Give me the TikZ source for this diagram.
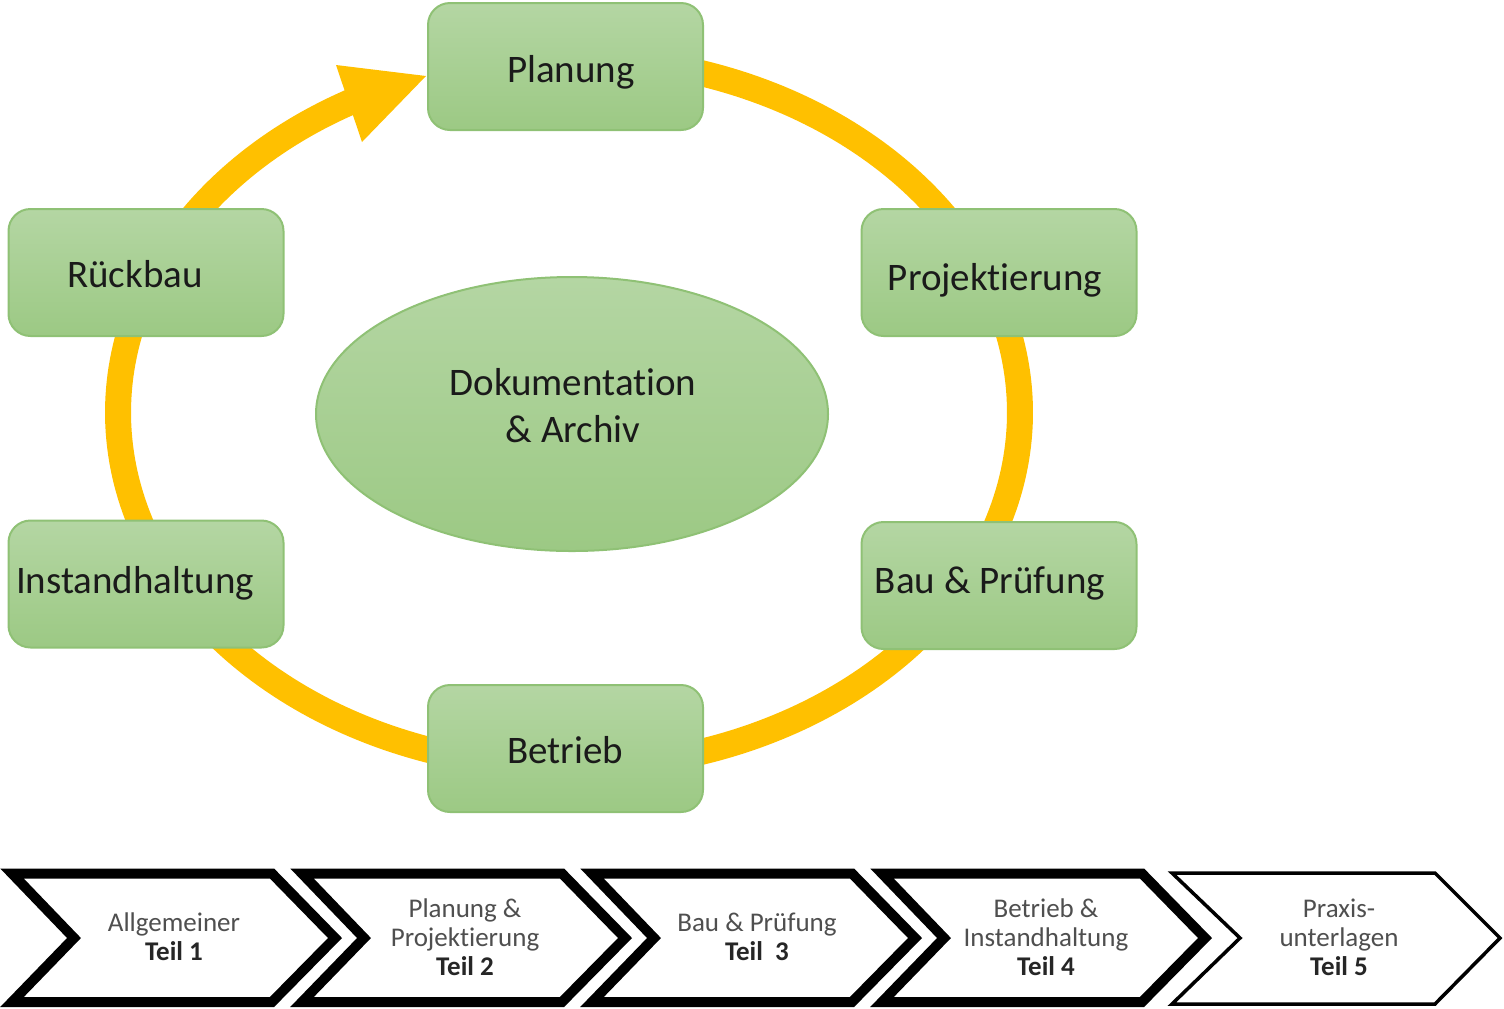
\documentclass[tikz,border=0pt]{standalone}
\usepackage{fontspec}
\setmainfont[Ligatures={NoCommon}]{Carlito}
\usetikzlibrary{shapes.geometric}
\definecolor{ringY}{HTML}{FFC000}
\definecolor{boxTop}{HTML}{B4D6A3}
\definecolor{boxBot}{HTML}{9CC984}
\definecolor{boxLine}{HTML}{8FC175}
\definecolor{txtMain}{HTML}{1A1A1A}
\definecolor{txtGray}{HTML}{4F4F4F}
\definecolor{txtDark}{HTML}{262626}
\begin{document}
\begin{tikzpicture}[x=0.5pt,y=-0.5pt,
  phasebox/.style={rectangle, rounded corners=11pt, draw=boxLine, line width=1pt,
    top color=boxTop, bottom color=boxBot, minimum width=137.5pt, minimum height=63.5pt, inner sep=0pt},
  phasetext/.style={anchor=base, font=\fontsize{19.5}{23.5}\selectfont, text=txtMain, inner sep=0pt},
  centreell/.style={ellipse, draw=boxLine, line width=1pt, top color=boxTop, bottom color=boxBot,
    minimum width=256pt, minimum height=137pt, inner sep=0pt},
  chev/.style={draw=black, line width=5pt, miter limit=10, line join=miter, fill=white},
  chevthin/.style={draw=black, line width=1.75pt, miter limit=10, line join=miter, fill=white},
  chevtext/.style={align=center, font=\fontsize{13.5}{14.5}\selectfont, text=txtGray, inner sep=0pt},
  ring/.style={draw=ringY, line width=13pt}
]
\useasboundingbox (0,0) rectangle (1504,1008);

% ring with arrow
\draw[ring] plot[domain=-100:242, samples=300, variable=\a] ({569+451*cos(\a)},{412.5+355*sin(\a)});
\fill[ringY] (336,65) -- (426,76) -- (362,142) -- cycle;

% phase boxes
\node[phasebox] (plan) at (565.5,66.5) {};
\node[phasetext] (plant) at (571,82) {Planung};
\node[phasebox] (proj) at (999,272.5) {};
\node[phasetext] (projt) at (995,290) {Projektierung};
\node[phasebox] (bau) at (999,585.5) {};
\node[phasetext] (baut) at (990,593) {Bau \& Prüfung};
\node[phasebox] (betr) at (565.5,748.5) {};
\node[phasetext] (betrt) at (565,763) {Betrieb};
\node[phasebox] (inst) at (146,584) {};
\node[phasetext] (instt) at (135,593) {Instandhaltung};
\node[phasebox] (rueck) at (146,272.5) {};
\node[phasetext] (rueckt) at (135,287) {Rückbau};

% centre ellipse
\node[centreell] (doku) at (572,414) {};
\node[phasetext] (dokut1) at (573,395) {Dokumentation};
\node[phasetext] (dokut2) at (573,442) {\& Archiv};

% chevrons
\draw[chev] (12,873.5) -- (272,873.5) -- (335,938) -- (272,1002) -- (12,1002) -- (74,938) -- cycle;
\draw[chev] (302,873.5) -- (562,873.5) -- (625,938) -- (562,1002) -- (302,1002) -- (364,938) -- cycle;
\draw[chev] (592,873.5) -- (852,873.5) -- (915,938) -- (852,1002) -- (592,1002) -- (654,938) -- cycle;
\draw[chev] (882,873.5) -- (1142,873.5) -- (1205,938) -- (1142,1002) -- (882,1002) -- (944,938) -- cycle;
\draw[chevthin] (1172,873) -- (1435,873) -- (1500,938) -- (1435,1004) -- (1172,1004) -- (1240,938) -- cycle;

\node[chevtext] (c1) at (174,937) {Allgemeiner\\\textcolor{txtDark}{\bfseries Teil 1}};
\node[chevtext] (c2) at (465,937) {Planung \&\\Projektierung\\\textcolor{txtDark}{\bfseries Teil 2}};
\node[chevtext] (c3) at (757,937) {Bau \& Prüfung\\\textcolor{txtDark}{\bfseries Teil~ 3}};
\node[chevtext] (c4) at (1046,937) {Betrieb \&\\Instandhaltung\\\textcolor{txtDark}{\bfseries Teil 4}};
\node[chevtext] (c5) at (1339,937) {Praxis-\\unterlagen\\\textcolor{txtDark}{\bfseries Teil 5}};
\end{tikzpicture}
\end{document}
